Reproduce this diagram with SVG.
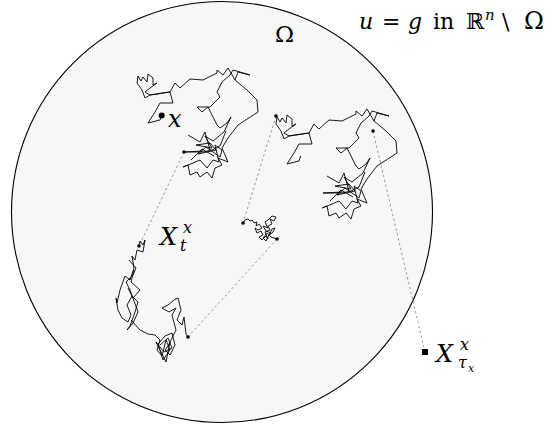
<svg xmlns="http://www.w3.org/2000/svg" xmlns:xlink="http://www.w3.org/1999/xlink" width="553" height="425" viewBox="0 0 553 425">
<style>
.dom{fill:#f7f7f7;stroke:#000;stroke-width:1.1}
.walk{fill:none;stroke:#000;stroke-width:0.9;stroke-linejoin:miter}
.con{fill:none;stroke:#9a9a9a;stroke-width:1;stroke-dasharray:2.5,2.5}
.dot{fill:#000}
.i{font-style:italic}
</style>
<defs>
<path id="walkA" class="walk" d="M161.7,115 L160,120 L148,123 L155,112 L160,103 L173,103 L170,92 L163,93 L150,95 L145,98 L142,90 L137,83 L138,76 L141,81 L143,77 L147,82 L148,74 L153,78 L153,85 L157,83 L150,88 L145,92 L150,95 L163,93 L170,92 L175,83 L180,88 L190,79 L203,80 L217,73 L217,70 L223,75 L228,68 L235,80 L238,72 L250,75 L233,70 L230,75 L222,82 L217,92 L220,97 L210,107 L197,107 L202,112 L208,107 L217,125 L220,128 L227,123 L231,117 L224,132 L213,141 L205,136 L212,148 L196,145 L210,143 L216,150 L198,154 L206,147 L220,157 L222,150 L215,145 L219,162 L213,160 L207,168 L200,160 L193,163 L183,167 L188,165 L190,175 L197,172 L200,177 L207,172 L212,178 L215,168 L222,165 L218,158 L228,162 L222,148 L228,138 L238,125 L258,112 L257,100 L247,90 L235,80 M226,131 L220,146 L212,150 L203,152 L184,152 L203,151 M188,135 L200,142 L205,132 L210,150 M191,160 L202,149 L214,156"/>
</defs>
<circle class="dom" cx="222" cy="212" r="210.5"/>
<g id="connectors">
<line class="con" x1="184" y1="152" x2="139" y2="246"/>
<line class="con" x1="276" y1="116" x2="243" y2="223"/>
<line class="con" x1="277" y1="239" x2="188" y2="337"/>
<line class="con" x1="373" y1="131" x2="425" y2="352"/>
</g>
<g id="walk1">
<use xlink:href="#walkA"/>
<circle class="dot" cx="161.7" cy="115.5" r="3"/>
<circle class="dot" cx="184" cy="152" r="1.8"/>
</g>
<g id="walk2">
<use xlink:href="#walkA" transform="translate(139,41)"/>
<circle class="dot" cx="276" cy="116" r="1.8"/>
<circle class="dot" cx="373" cy="131" r="1.8"/>
</g>
<g id="walk3">
<path class="walk" d="M243,223 L245,220 L248,219 L250,221 L252,220 L254,223 L257,222 L256,226 L259,224 L262,228 L258,230 L255,228 L257,233 L261,231 L263,235 L259,237 L262,240 L266,236 L268,239 L265,232 L270,230 L268,226 L272,224 L270,219 L274,221 L276,217 L272,216 L268,220 L265,222 L268,228 L263,226 L266,231 L271,233 L268,236 L273,232 L275,228 L272,229 L269,235 L266,241 L263,238 L267,233 L271,237 L277,239"/>
<circle class="dot" cx="243" cy="223" r="1.8"/>
<circle class="dot" cx="277" cy="239" r="1.8"/>
</g>
<g id="walk4">
<path class="walk" d="M139,246 L140,241 L143,245 L145,240 L143,252 L137,250 L135,260 L132,256 L134,268 L130,280 L125,276 L120,290 L117,303 L116,298 L118,310 L122,318 L128,322 L131,315 L127,305 L132,296 L138,302 L135,312 L130,326 L127,330 L133,323 L138,312 L130,290 L126,282 L133,275 L136,268 L129,260 M134,270 L131,282 L140,290 L133,298 L128,288 M131,320 L140,330 L148,334 L155,335 L160,340 L157,350 L162,356 L166,340 L170,350 L163,360 L158,344 L165,336 L172,333 L175,345 L170,355 L165,350 L168,346 L176,330 L172,315 L176,308 L169,312 L162,308 L168,305 L174,300 L178,298 L181,310 L177,320 L182,325 L184,317 L186,334 L188,337 M160,345 L168,338 L172,348 L164,352 L156,342 L166,362 L170,342"/>
<circle class="dot" cx="139" cy="246" r="1.8"/>
<circle class="dot" cx="188" cy="337" r="1.8"/>
</g>
<g id="exit">
<rect x="422" y="349" width="6" height="6" fill="#000"/>
</g>
<g id="labels" font-family="DejaVu Serif, serif" fill="#000">
<text x="275" y="42" font-size="23">Ω</text>
<text class="i" x="168" y="127" font-size="24">x</text>
<text class="i" x="160" y="245" font-size="24">X</text>
<text class="i" x="183" y="233" font-size="16">x</text>
<text class="i" x="180" y="251" font-size="16">t</text>
<text class="i" x="436" y="362" font-size="24">X</text>
<text class="i" x="460" y="350" font-size="16">x</text>
<text class="i" x="458" y="368" font-size="16">τ</text>
<text class="i" x="468" y="372" font-size="11">x</text>
<text y="29" font-size="22"><tspan class="i" x="359">u</tspan><tspan x="382">=</tspan><tspan class="i" x="408">g</tspan><tspan x="433">in</tspan><tspan x="466">ℝ</tspan><tspan class="i" x="485" y="20" font-size="15">n</tspan><tspan x="502" y="29">\</tspan><tspan x="524" y="29" font-size="24">Ω</tspan></text>
</g>
</svg>
